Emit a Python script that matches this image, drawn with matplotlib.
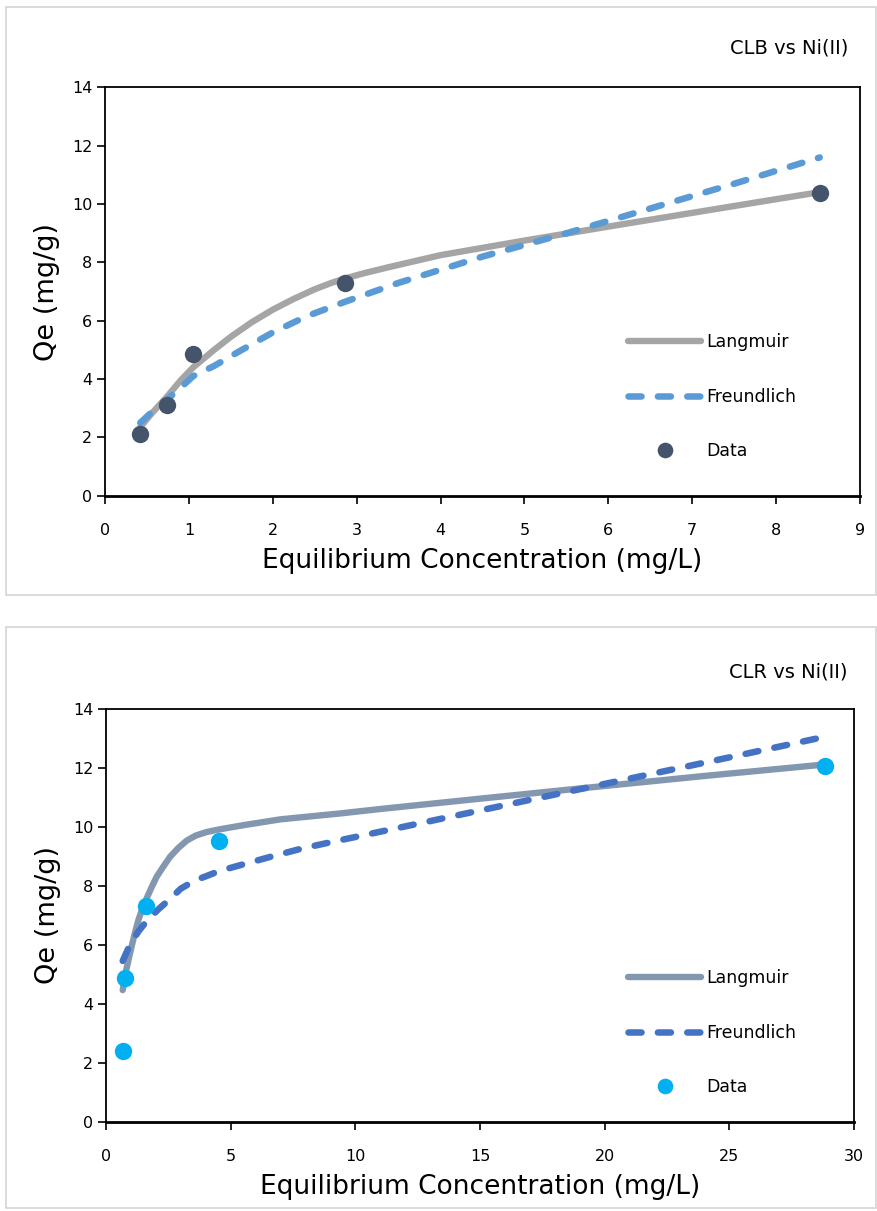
import matplotlib
matplotlib.use("Agg")
import matplotlib.pyplot as plt
from matplotlib.patches import Rectangle

# ---- CLB vs Ni(II) ----
clb_data_x = [0.42, 0.74, 1.05, 2.86, 8.52]
clb_data_y = [2.11, 3.10, 4.87, 7.30, 10.37]

clb_lang_x = [0.42, 0.55, 0.74, 0.90, 1.05, 1.30, 1.50, 1.75, 2.00, 2.25, 2.50, 2.70,
              2.86, 3.10, 3.40, 4.00, 5.00, 6.00, 7.00, 8.00, 8.52]
clb_lang_y = [2.35, 2.80, 3.40, 3.95, 4.40, 5.00, 5.45, 5.95, 6.38, 6.75, 7.08, 7.30,
              7.45, 7.64, 7.85, 8.25, 8.75, 9.23, 9.70, 10.17, 10.41]

clb_freu_x = [0.42, 0.55, 0.74, 0.90, 1.05, 1.30, 1.60, 2.00, 2.40, 2.86, 3.50, 4.50,
              5.50, 6.50, 7.50, 8.52]
clb_freu_y = [2.50, 2.85, 3.30, 3.70, 4.10, 4.45, 4.95, 5.60, 6.15, 6.65, 7.30, 8.20,
              9.00, 9.85, 10.70, 11.60]

# ---- CLR vs Ni(II) ----
clr_data_x = [0.67, 0.76, 1.60, 4.55, 28.84]
clr_data_y = [2.41, 4.87, 7.32, 9.53, 12.05]

clr_lang_x = [0.67, 0.80, 0.96, 1.13, 1.30, 1.45, 1.63, 1.83, 2.03, 2.30, 2.57, 2.90,
              3.24, 3.60, 4.04, 4.55, 5.50, 7.00, 9.40, 11.0, 15.0, 19.4, 24.0, 28.84]
clr_lang_y = [4.46, 5.10, 5.70, 6.30, 6.84, 7.20, 7.57, 7.95, 8.30, 8.65, 8.98, 9.28,
              9.53, 9.70, 9.82, 9.91, 10.05, 10.25, 10.45, 10.60, 10.95, 11.33, 11.72, 12.11]

clr_freu_x = [0.67, 0.96, 1.30, 1.63, 2.10, 2.50, 3.00, 3.57, 4.10, 4.55, 5.40, 6.60,
              7.90, 9.10, 11.0, 15.0, 20.0, 25.0, 28.84]
clr_freu_y = [5.45, 6.00, 6.45, 6.80, 7.20, 7.50, 7.90, 8.18, 8.35, 8.50, 8.70, 8.98,
              9.27, 9.49, 9.83, 10.55, 11.45, 12.35, 13.05]

W, H = 878, 1211
fig = plt.figure(figsize=(W / 100, H / 100), dpi=100)
plt.rcParams['font.family'] = ['DejaVu Sans']


def px_axes(left, top, right, bottom):
    return [left / W, 1 - bottom / H, (right - left) / W, (bottom - top) / H]


def panel(box, ax_rect, title, title_y, xs, ys_lang, ys_freu, data, xmax, xstep,
          c_lang, c_freu, c_data, leg_xy):
    x0, y0, x1, y1 = box
    fig.patches.append(Rectangle((x0 / W, 1 - y1 / H), (x1 - x0) / W, (y1 - y0) / H,
                                 transform=fig.transFigure, fill=False,
                                 edgecolor='#d4d4d4', linewidth=1.2))
    ax = fig.add_axes(px_axes(*ax_rect))
    ax.plot(xs[0], ys_lang, color=c_lang, lw=4.6, solid_capstyle='round',
            solid_joinstyle='round', label='Langmuir', zorder=2)
    ax.plot(xs[1], ys_freu, color=c_freu, lw=4.7, linestyle=(0, (2.0, 2.5)),
            dash_capstyle='round', label='Freundlich', zorder=3)
    ax.plot(data[0], data[1], 'o', color=c_data, ms=12.5, mec='none',
            label='Data', zorder=4)
    ax.set_xlim(0, xmax)
    ax.set_ylim(0, 14)
    ax.set_xticks(range(0, xmax + 1, xstep))
    ax.set_yticks(range(0, 15, 2))
    ax.tick_params(direction='out', length=6, width=1.2, labelsize=11.5,
                   colors='black')
    ax.tick_params(axis='x', pad=14)
    ax.tick_params(axis='y', pad=3)
    for s in ax.spines.values():
        s.set_linewidth(1.3)
    ax.spines['bottom'].set_linewidth(2.0)
    ax.set_xlabel('Equilibrium Concentration (mg/L)', fontsize=19, labelpad=7)
    ax.set_ylabel('Qe (mg/g)', fontsize=19.5, labelpad=9)
    fig.text(848 / W, 1 - title_y / H, title, ha='right', va='center', fontsize=14)
    ax.legend(loc='center left', bbox_to_anchor=leg_xy, frameon=False,
              fontsize=12.5, handlelength=4.2, handletextpad=0.3,
              labelspacing=2.1, borderpad=0, borderaxespad=0, markerscale=0.9)
    return ax


panel((6, 7, 876, 595), (105, 87.5, 860, 495.7), 'CLB vs Ni(II)', 48,
      (clb_lang_x, clb_freu_x), clb_lang_y, clb_freu_y, (clb_data_x, clb_data_y),
      9, 1, '#a5a5a5', '#5b9bd5', '#44546a', (0.693, 0.242))

panel((6, 627, 876, 1208), (106, 708.7, 854, 1121.7), 'CLR vs Ni(II)', 672,
      (clr_lang_x, clr_freu_x), clr_lang_y, clr_freu_y, (clr_data_x, clr_data_y),
      30, 5, '#8497b0', '#4472c4', '#00b0f0', (0.698, 0.215))

fig.savefig('out.png', dpi=100)
